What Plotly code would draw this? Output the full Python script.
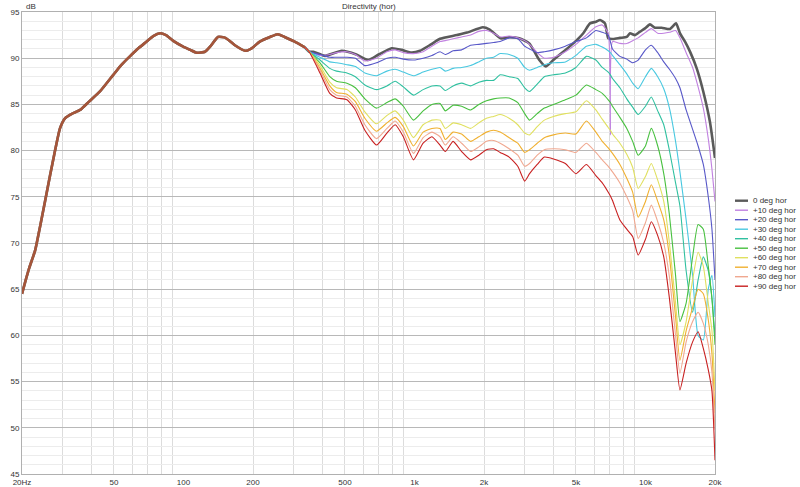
import plotly.graph_objects as go

# ---------------- data ----------------
# shared low-frequency part (all angles identical below ~340 Hz)
FREQ_LF = [20, 20.5, 21.5, 22.8, 24, 25.2, 26.5, 27.8, 29.2, 30.7, 33, 35.7, 39, 43.5,
           49.7, 54, 58.6, 64, 69.3, 74, 79.2, 84, 90, 99.7, 107, 114, 124, 131, 141,
           152, 167, 185, 198, 214, 237, 256, 274, 303, 334]
LEVEL_LF = [64.5, 65.5, 67.3, 69.2, 71.9, 74.6, 77.4, 80.0, 82.4, 83.5, 84.0, 84.4, 85.3,
            86.4, 88.2, 89.3, 90.2, 91.1, 91.8, 92.4, 92.7, 92.5, 91.9, 91.25, 90.9, 90.6,
            90.7, 91.3, 92.3, 92.2, 91.4, 90.8, 91.1, 91.8, 92.3, 92.6, 92.3, 91.8, 91.2]

# on-axis (0 deg) above the split
FREQ_ON = [350, 365, 410, 484, 560, 631, 700, 797, 880, 972, 1057, 1180, 1290, 1524, 1690,
           1977, 2118, 2360, 2574, 2840, 3140, 3471, 3700, 3990, 4410, 4870, 5380, 5752,
           6110, 6360, 6680, 6904, 7256, 7760, 8294, 8572, 9010, 9470, 9954, 10462, 10996,
           11752, 12770, 13558, 14110, 14830, 15590, 16666, 17790, 19020, 20000]
LEVEL_ON = [90.7, 90.7, 90.25, 90.8, 90.4, 89.8, 90.4, 91.07, 90.9, 90.6, 90.8, 91.5, 92.1,
            92.5, 92.77, 93.35, 93.1, 92.15, 92.26, 92.15, 91.6, 89.8, 89.1, 89.8, 90.7,
            91.6, 92.7, 93.77, 93.95, 94.13, 93.77, 92.15, 92.08, 92.2, 92.3, 92.69, 92.5,
            92.87, 93.23, 93.66, 93.3, 93.3, 93.16, 93.77, 92.69, 91.79, 90.71, 88.9, 86.4,
            83.1, 79.2]

# off-axis curves above the split (shared frequency grid)
FREQ_OFF = [350, 390, 430, 460, 510, 555, 610, 685, 760, 825, 895, 990, 1090, 1190, 1290,
            1360, 1470, 1600, 1750, 1900, 2050, 2200, 2350, 2570, 2800, 3000, 3150, 3400,
            3650, 4000, 4500, 5000, 5550, 6100, 6500, 6900, 7050, 7200, 7750, 8300, 8800,
            9300, 10000, 10600, 11300, 12000, 12700, 13500, 14100, 15000, 16000, 16900,
            17800, 18700, 19400, 20000]

DEG10 = [90.7, 90.3, 90.4, 90.6, 90.7, 90.4, 89.7, 90.0, 90.7, 90.9, 90.6, 90.5, 90.7, 91.3,
         91.8, 91.9, 92.1, 92.3, 92.5, 92.9, 93.0, 92.7, 92.3, 92.4, 92.2, 91.9, 91.5, 90.6,
         90.0, 90.1, 90.7, 91.5, 92.5, 93.4, 93.6, 92.7, 81.7, 91.8, 91.6, 91.6, 91.9, 92.2,
         92.8, 93.2, 92.7, 92.7, 92.8, 93.0, 92.2, 90.6, 89.0, 86.9, 84.6, 81.3, 78.0, 74.5]
DEG20 = [90.7, 90.4, 90.1, 90.1, 90.1, 90.0, 89.2, 89.5, 90.0, 90.1, 89.9, 89.8, 90.0, 90.3,
         90.7, 90.4, 90.8, 90.9, 91.4, 91.5, 91.6, 91.7, 91.8, 92.2, 92.1, 91.3, 91.0, 90.6,
         90.7, 90.9, 91.3, 91.8, 92.2, 93.0, 92.8, 92.5, 91.8, 91.0, 90.2, 89.9, 89.5, 89.8,
         90.9, 91.4, 90.6, 89.6, 88.8, 87.8, 86.8, 84.4, 82.3, 80.5, 78.5, 75.0, 71.5, 66.0]
DEG30 = [90.7, 90.1, 89.6, 89.5, 89.3, 89.1, 88.4, 88.1, 88.6, 88.8, 88.5, 88.1, 88.5, 88.8,
         89.0, 88.6, 88.9, 89.0, 89.2, 89.6, 90.0, 90.1, 90.5, 90.4, 90.0, 89.0, 88.7, 89.0,
         89.3, 89.5, 89.6, 90.3, 91.3, 91.5, 91.2, 90.8, 90.6, 90.3, 89.3, 88.3, 87.3, 86.7,
         88.0, 88.9, 88.0, 86.7, 84.6, 81.0, 77.7, 72.5, 66.5, 60.0, 59.5, 65.0, 66.5, 62.0]
DEG40 = [90.7, 89.8, 88.9, 88.6, 88.4, 88.0, 87.1, 86.6, 87.0, 87.5, 86.9, 86.0, 86.6, 87.0,
         87.0, 86.5, 87.0, 87.3, 87.0, 87.4, 87.6, 87.6, 88.2, 88.0, 87.8, 86.8, 86.4, 87.2,
         88.0, 88.2, 88.4, 89.0, 90.2, 89.8, 89.0, 88.5, 88.2, 87.8, 86.8, 85.6, 84.7, 83.9,
         84.8, 85.8, 84.3, 82.8, 80.0, 76.5, 74.0, 67.0, 62.5, 66.0, 68.5, 67.0, 64.0, 60.0]
DEG50 = [90.7, 89.5, 88.0, 87.5, 87.3, 86.8, 85.6, 84.6, 85.2, 85.6, 84.8, 83.3, 84.3, 85.0,
         85.1, 84.3, 84.9, 84.8, 84.4, 85.0, 85.4, 85.6, 85.7, 85.7, 85.2, 84.0, 83.3, 84.0,
         84.6, 85.0, 85.5, 86.0, 87.1, 86.6, 86.2, 85.5, 85.2, 84.8, 83.6, 82.4, 81.0, 79.5,
         80.5, 82.4, 80.5, 77.5, 73.0, 66.5, 61.5, 63.5, 68.5, 72.0, 71.5, 67.5, 64.0, 59.0]
DEG60 = [90.7, 89.2, 87.4, 86.8, 86.6, 85.8, 84.2, 82.9, 83.8, 84.3, 83.3, 81.4, 82.8, 83.3,
         83.3, 82.4, 83.0, 82.8, 82.4, 83.0, 83.5, 83.7, 83.9, 83.5, 82.8, 81.9, 81.7, 82.6,
         83.3, 83.7, 84.0, 84.2, 85.4, 84.4, 83.4, 82.5, 82.2, 81.8, 80.8, 79.6, 78.2, 75.9,
         77.2, 78.6, 76.8, 74.5, 70.0, 63.5, 59.0, 61.5, 66.0, 69.0, 67.5, 63.5, 60.5, 54.0]
DEG70 = [90.7, 88.9, 87.0, 86.3, 86.1, 85.3, 83.5, 82.1, 83.0, 83.6, 82.6, 80.5, 82.0, 82.4,
         82.4, 81.2, 82.0, 81.8, 81.0, 81.5, 82.0, 82.2, 82.0, 81.4, 80.8, 79.8, 80.1, 80.8,
         81.4, 81.7, 81.9, 81.8, 83.2, 82.0, 81.0, 80.3, 80.0, 79.7, 78.5, 77.0, 75.5, 72.8,
         74.5, 76.3, 74.5, 72.5, 68.5, 62.0, 57.3, 60.5, 63.0, 65.0, 64.5, 61.7, 58.0, 51.6]
DEG80 = [90.7, 88.7, 86.6, 86.0, 85.8, 84.8, 82.8, 81.3, 82.4, 83.2, 82.0, 79.7, 81.4, 82.0,
         81.5, 80.6, 81.5, 80.8, 79.9, 80.4, 81.0, 81.1, 80.8, 80.2, 79.5, 78.3, 78.6, 79.5,
         80.1, 80.2, 80.1, 79.8, 80.8, 79.8, 79.0, 78.3, 78.0, 77.7, 76.5, 75.0, 73.5, 70.5,
         72.2, 74.1, 72.3, 70.0, 66.3, 60.0, 55.9, 59.3, 61.5, 62.5, 61.3, 59.0, 56.0, 49.8]
DEG90 = [90.7, 88.4, 86.2, 85.7, 85.5, 84.4, 82.2, 80.6, 81.9, 82.8, 81.5, 79.0, 80.8, 81.5,
         80.6, 79.9, 81.0, 79.9, 79.0, 79.5, 80.1, 80.2, 79.8, 79.3, 78.3, 76.7, 77.5, 78.5,
         79.3, 79.1, 78.6, 77.5, 78.5, 77.3, 76.5, 75.5, 75.1, 74.6, 72.5, 71.5, 70.7, 68.7,
         70.4, 72.3, 70.8, 68.5, 64.0, 58.0, 54.1, 57.0, 59.3, 60.4, 58.6, 56.3, 54.0, 46.5]

OFF_AXIS = [DEG10, DEG20, DEG30, DEG40, DEG50, DEG60, DEG70, DEG80, DEG90]
NAMES = ["0 deg hor", "+10 deg hor", "+20 deg hor", "+30 deg hor", "+40 deg hor",
         "+50 deg hor", "+60 deg hor", "+70 deg hor", "+80 deg hor", "+90 deg hor"]
COLORS = ["#5a5a5a", "#c080e0", "#5858c8", "#48c8e0", "#30c0a0", "#48c040",
          "#e0e060", "#f0b030", "#f0a890", "#c82020"]
LF_COLOR = "#a5553a"

X_TICKS = [20, 50, 100, 200, 500, 1000, 2000, 5000, 10000, 20000]
X_TICKTEXT = ["20Hz", "50", "100", "200", "500", "1k", "2k", "5k", "10k", "20k"]
X_MINOR = [m * d for d in (10, 100, 1000) for m in range(2, 10)] + [20000]
X_DECADES = [100, 1000, 10000]
Y_TICKS = list(range(45, 96, 5))
Y_TENS = [50, 60, 70, 80, 90]
X_RANGE = [1.30103, 4.30103]
Y_RANGE = [45, 95]

# ---------------- figure ----------------
fig = go.Figure()
fig.add_trace(go.Scatter(x=FREQ_LF + FREQ_ON, y=LEVEL_LF + LEVEL_ON, mode="lines",
                         name=NAMES[0], line=dict(color=COLORS[0], width=2.6,
                                                  shape="spline", smoothing=0.5),
                         showlegend=False))
for name, col, vals in zip(NAMES[1:], COLORS[1:], OFF_AXIS):
    assert len(vals) == len(FREQ_OFF)
    fig.add_trace(go.Scatter(x=FREQ_LF + FREQ_OFF, y=LEVEL_LF + vals, mode="lines",
                             name=name, line=dict(color=col, width=1.1,
                                                  shape="spline", smoothing=0.5),
                             showlegend=False))
# overlapped low-frequency region (appears brown in the original)
fig.add_trace(go.Scatter(x=FREQ_LF, y=LEVEL_LF, mode="lines", showlegend=False,
                         hoverinfo="skip",
                         line=dict(color=LF_COLOR, width=2.6, shape="spline", smoothing=0.5)))

# manual compact legend
shapes = []
annotations = []
PW, PH = 693.0, 462.0
for i, (name, col) in enumerate(zip(NAMES, COLORS)):
    py = 200.7 + 9.5 * i
    yp = 1 - (py - 12) / PH
    shapes.append(dict(type="line", xref="paper", yref="paper",
                       x0=(735 - 22) / PW, x1=(748 - 22) / PW, y0=yp, y1=yp,
                       line=dict(color=col, width=2.4 if i == 0 else 1.4)))
    annotations.append(dict(xref="paper", yref="paper", x=(751 - 22) / PW, y=yp,
                            xanchor="left", yanchor="middle", showarrow=False,
                            text=name, font=dict(size=8, color="#333333")))

annotations.append(dict(xref="paper", yref="paper", x=0.5, y=1, yanchor="bottom",
                        xanchor="center", showarrow=False, text="Directivity (hor)",
                        font=dict(size=8, color="#333333"), yshift=-1))
annotations.append(dict(xref="paper", yref="paper", x=0, y=1, yanchor="bottom",
                        xanchor="left", showarrow=False, text="dB", xshift=2,
                        font=dict(size=8, color="#333333"), yshift=-1))

fig.update_layout(
    width=800, height=487,
    margin=dict(l=22, r=85, t=12, b=13, autoexpand=False),
    paper_bgcolor="white", plot_bgcolor="white",
    font=dict(family="Liberation Sans, Arial, sans-serif", size=8, color="#333333"),
    showlegend=False,
    shapes=shapes, annotations=annotations,
    xaxis=dict(type="log", range=X_RANGE, tickvals=X_TICKS, ticktext=X_TICKTEXT,
               showgrid=False, showline=True, mirror=True, linecolor="#b0b0b0",
               ticks="", zeroline=False, tickfont=dict(size=8), automargin=False,
               minor=dict(tickvals=X_MINOR, showgrid=True, gridcolor="#dcdcdc",
                          gridwidth=1, ticks="")),
    xaxis2=dict(type="log", range=X_RANGE, overlaying="x", anchor="y", side="bottom",
                tickvals=X_DECADES, showticklabels=False, showgrid=True,
                gridcolor="#7a7a7a", ticks="", zeroline=False, showline=False,
                automargin=False),
    yaxis=dict(range=Y_RANGE, tickvals=Y_TICKS, showgrid=True, gridcolor="#b8b8b8",
               showline=True, mirror=True, linecolor="#b0b0b0", ticks="",
               zeroline=False, tickfont=dict(size=8), automargin=False,
               minor=dict(dtick=1, showgrid=True, gridcolor="#ececec", ticks="")),
    yaxis2=dict(range=Y_RANGE, overlaying="y", anchor="x", side="left",
                tickvals=Y_TENS, showticklabels=False, showgrid=True,
                gridcolor="#8a8a8a", ticks="", zeroline=False, showline=False,
                automargin=False),
)

fig.write_html("out.html", post_script="document.body.style.margin='0';",
               config={"displayModeBar": False})
